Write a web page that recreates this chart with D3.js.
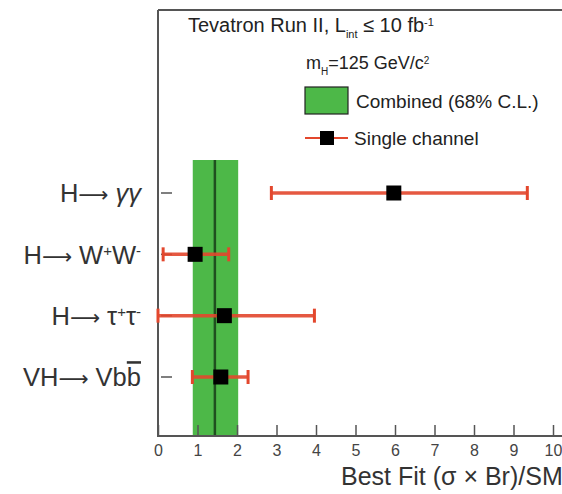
<!DOCTYPE html>
<html><head><meta charset="utf-8">
<script src="https://cdn.jsdelivr.net/npm/d3@7"></script>
<style>body{margin:0;background:#fff}svg{display:block}text{font-family:"Liberation Sans",Arial,sans-serif}</style>
</head><body><svg id="c" width="562" height="494"></svg>
<script>
const categories = ["Hγγ", "HWW", "Hττ", "VHbb"];
const centralValues = [5.97, 0.94, 1.68, 1.59];
const errLow = [2.87, 0.13, 0.0, 0.87];
const errHigh = [9.35, 1.79, 3.96, 2.28];
const combined = {center: 1.44, low: 0.88, high: 2.03};
const xTicks = [0,1,2,3,4,5,6,7,8,9,10];

const svg = d3.select("#c");
const x = d3.scaleLinear().domain([0, 10]).range([158, 553]);
const y = d3.scalePoint().domain(categories).range([193, 377]);
const frameTop = 10, frameBottom = 436;

const red = "#e3472d", green = "#4db848";

// combined band
svg.append("rect").attr("x", x(combined.low)).attr("y", 160)
  .attr("width", x(combined.high) - x(combined.low)).attr("height", frameBottom - 160)
  .attr("fill", green);
svg.append("line").attr("x1", x(combined.center)).attr("x2", x(combined.center))
  .attr("y1", 160).attr("y2", frameBottom).attr("stroke", "#1f4f1f").attr("stroke-width", 2.5);

// frame
svg.append("path").attr("d", `M${x(0)},${frameTop}H570M${x(0)},${frameTop}V${frameBottom}H570`)
  .attr("fill", "none").attr("stroke", "#555").attr("stroke-width", 2);

// x axis ticks (inward)
const xAxis = d3.axisBottom(x).tickValues(xTicks).tickSizeInner(-11).tickSizeOuter(0).tickPadding(15);
const gx = svg.append("g").attr("transform", `translate(0,${frameBottom})`).call(xAxis);
gx.select(".domain").remove();
gx.selectAll(".tick line").attr("stroke", "#555").attr("stroke-width", 1.5);
gx.selectAll(".tick text").attr("font-size", 16).attr("fill", "#444").attr("dy", "0.3em");

// y ticks
svg.selectAll(".ytick").data(categories).join("line")
  .attr("x1", x(0) + 3).attr("x2", x(0) + 14)
  .attr("y1", d => y(d)).attr("y2", d => y(d))
  .attr("stroke", "#555").attr("stroke-width", 1.5);

// category labels
const labelG = svg.append("g");
function addLabel(cat, parts) {
  const t = labelG.append("text").attr("x", 141).attr("y", y(cat)).attr("dy", "0.36em")
    .attr("text-anchor", "end").attr("font-size", 25.5).attr("fill", "#333");
  parts.forEach(p => {
    const s = t.append("tspan").text(p.t);
    if (p.sup) s.attr("font-size", 15).attr("baseline-shift", "super");
    if (p.bar) s.attr("text-decoration", "overline");
    if (p.it) s.attr("font-style", "italic");
    if (p.arrow) s.attr("font-family", "DejaVu Sans").attr("font-size", 21);
  });
}
addLabel(categories[0], [{t: "H"}, {t: "⟶", arrow: true}, {t: " "}, {t: "γγ", it: true}]);
addLabel(categories[1], [{t: "H"}, {t: "⟶", arrow: true}, {t: " W"}, {t: "+", sup: true}, {t: "W"}, {t: "-", sup: true}]);
addLabel(categories[2], [{t: "H"}, {t: "⟶", arrow: true}, {t: " τ"}, {t: "+", sup: true}, {t: "τ"}, {t: "-", sup: true}]);
addLabel(categories[3], [{t: "VH"}, {t: "⟶", arrow: true}, {t: " Vb"}, {t: "b", bar: true}]);

// error bars
const rows = categories.map((c, i) => ({c, v: centralValues[i], lo: errLow[i], hi: errHigh[i]}));
const eb = svg.append("g");
eb.selectAll(".h").data(rows).join("line")
  .attr("x1", d => x(d.lo)).attr("x2", d => x(d.hi))
  .attr("y1", d => y(d.c)).attr("y2", d => y(d.c))
  .attr("stroke", red).attr("stroke-width", 3.5).attr("opacity", 0.9);
eb.selectAll(".cl").data(rows).join("line")
  .attr("x1", d => x(d.lo)).attr("x2", d => x(d.lo))
  .attr("y1", d => y(d.c) - 7).attr("y2", d => y(d.c) + 7)
  .attr("stroke", red).attr("stroke-width", 3);
eb.selectAll(".ch").data(rows).join("line")
  .attr("x1", d => x(d.hi)).attr("x2", d => x(d.hi))
  .attr("y1", d => y(d.c) - 7).attr("y2", d => y(d.c) + 7)
  .attr("stroke", red).attr("stroke-width", 3);
eb.selectAll("rect").data(rows).join("rect")
  .attr("x", d => x(d.v) - 7.5).attr("y", d => y(d.c) - 7.5)
  .attr("width", 15).attr("height", 15).attr("fill", "#000");

// header texts
const hdr = svg.append("text").attr("x", 188).attr("y", 32).attr("font-size", 20).attr("fill", "#222");
hdr.append("tspan").text("Tevatron Run II, L");
hdr.append("tspan").text("int").attr("font-size", 11).attr("baseline-shift", "sub");
hdr.append("tspan").text(" ≤ 10 fb");
hdr.append("tspan").text("-1").attr("font-size", 11).attr("baseline-shift", "super");

const mh = svg.append("text").attr("x", 306).attr("y", 69).attr("font-size", 18).attr("fill", "#222");
mh.append("tspan").text("m");
mh.append("tspan").text("H").attr("font-size", 10).attr("baseline-shift", "sub");
mh.append("tspan").text("=125 GeV/c");
mh.append("tspan").text("2").attr("font-size", 10).attr("baseline-shift", "super");

// legend
svg.append("rect").attr("x", 305).attr("y", 87).attr("width", 43).attr("height", 27)
  .attr("fill", green).attr("stroke", "#222").attr("stroke-width", 1.2);
svg.append("text").attr("x", 356).attr("y", 101).attr("dy", "0.35em").attr("font-size", 19).attr("fill", "#222").text("Combined (68% C.L.)");
svg.append("line").attr("x1", 305).attr("x2", 348).attr("y1", 138).attr("y2", 138).attr("stroke", red).attr("stroke-width", 2);
svg.append("rect").attr("x", 320).attr("y", 131).attr("width", 14).attr("height", 14).attr("fill", "#000");
svg.append("text").attr("x", 354).attr("y", 138).attr("dy", "0.35em").attr("font-size", 19).attr("fill", "#222").text("Single channel");

// axis title
svg.append("text").attr("x", 341).attr("y", 485).attr("font-size", 25).attr("fill", "#333")
  .text("Best Fit (σ × Br)/SM");
</script></body></html>
